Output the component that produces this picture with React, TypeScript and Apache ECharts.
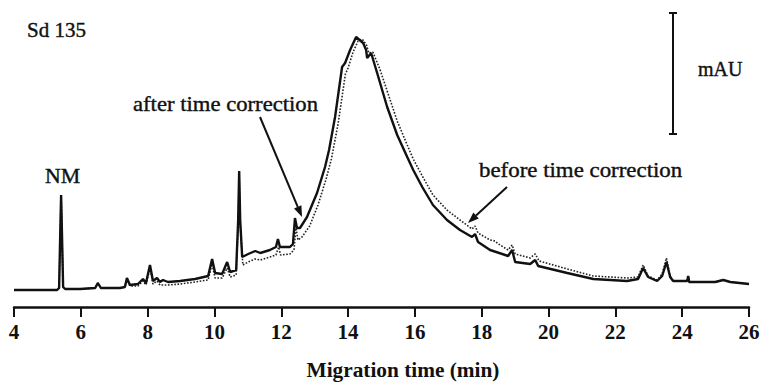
import React, { useEffect, useRef } from "react";
import * as echarts from "echarts";

// Migration time (min) vs absorbance (arbitrary mAU units)
const xTickValues = [4, 6, 8, 10, 12, 14, 16, 18, 20, 22, 24, 26];

const afterCorrection: [number, number][] = [
  [4.0, 0], [4.78, 0], [5.29, 0], [5.35, 2], [5.38, 50], [5.41, 95], [5.44, 50], [5.47, 3], [5.53, 1],
  [5.98, 1], [6.43, 2], [6.51, 7], [6.6, 2], [7.17, 2], [7.32, 3], [7.38, 12], [7.47, 5], [7.71, 6],
  [7.86, 11], [7.95, 7], [8.07, 25], [8.16, 9], [8.28, 12], [8.37, 8], [8.46, 10], [8.61, 8], [8.97, 9],
  [9.42, 11], [9.81, 14], [9.93, 31], [10.02, 17], [10.23, 16], [10.38, 28], [10.47, 18], [10.65, 20],
  [10.71, 70], [10.74, 119], [10.77, 70], [10.83, 33], [11.01, 36], [11.22, 39], [11.37, 37], [11.66, 40],
  [11.84, 43], [11.9, 51], [11.96, 43], [12.26, 43], [12.35, 46], [12.41, 72], [12.47, 62], [12.56, 62],
  [12.77, 73], [13.07, 97], [13.31, 123], [13.43, 140], [13.61, 173], [13.82, 223], [13.91, 227],
  [14.06, 240], [14.24, 253], [14.45, 247], [14.54, 240], [14.57, 232], [14.69, 237], [14.87, 217],
  [15.17, 183], [15.47, 155], [15.77, 133], [15.95, 120], [16.22, 103], [16.54, 85], [16.96, 70],
  [17.35, 60], [17.71, 53], [17.8, 56], [17.89, 48], [18.25, 40], [18.79, 34], [18.91, 40], [19.0, 28],
  [19.45, 26], [19.6, 30], [19.69, 24], [20.56, 17], [21.34, 11], [22.35, 9], [22.68, 11], [22.83, 22],
  [22.98, 13], [23.25, 9], [23.4, 14], [23.53, 28], [23.64, 13], [23.73, 9], [24.15, 9], [24.18, 14],
  [24.21, 8], [24.99, 8], [25.23, 10], [25.44, 8], [26.0, 6],
];

const beforeCorrection: [number, number][] = [
  [4.0, 0], [4.78, 0], [5.29, 0], [5.35, 2], [5.38, 50], [5.41, 95], [5.44, 50], [5.47, 3], [5.53, 1],
  [5.98, 1], [6.43, 2], [6.51, 7], [6.6, 2], [7.17, 2], [7.32, 3], [7.38, 11], [7.47, 4], [7.71, 4],
  [7.86, 9], [7.95, 5], [8.07, 22], [8.16, 6], [8.28, 9], [8.37, 5], [8.61, 5], [8.97, 6], [9.42, 8],
  [9.81, 10], [9.93, 26], [10.02, 12], [10.23, 12], [10.38, 22], [10.47, 13], [10.65, 15], [10.71, 65],
  [10.74, 116], [10.77, 65], [10.85, 25], [11.01, 28], [11.22, 31], [11.37, 30], [11.66, 33], [11.84, 35],
  [11.92, 43], [11.98, 35], [12.26, 36], [12.38, 40], [12.44, 62], [12.5, 50], [12.62, 53], [12.85, 64],
  [13.1, 85], [13.35, 112], [13.5, 131], [13.7, 166], [13.92, 216], [14.0, 222], [14.15, 238], [14.3, 249],
  [14.42, 251], [14.55, 245], [14.62, 237], [14.74, 238], [14.95, 221], [15.17, 199], [15.47, 169],
  [15.77, 145], [15.95, 131], [16.22, 114], [16.54, 95], [16.96, 80], [17.35, 70], [17.71, 61], [17.8, 64],
  [17.89, 57], [18.25, 50], [18.4, 49], [18.5, 46], [18.79, 40], [18.91, 45], [19.0, 36], [19.45, 32],
  [19.6, 36], [19.72, 29], [20.56, 21], [21.34, 14], [22.35, 12], [22.68, 13], [22.83, 25], [22.98, 14],
  [23.25, 10], [23.4, 16], [23.53, 32], [23.64, 14], [23.73, 9], [24.15, 9], [24.18, 14], [24.21, 8],
  [24.99, 8], [25.23, 10], [25.44, 8], [26.0, 6],
];

const sampleLabel = "Sd 135";
const peakLabel = "NM";
const afterLabel = "after time correction";
const beforeLabel = "before time correction";
const unitLabel = "mAU";
const xAxisTitle = "Migration time (min)";

const SERIF = '"Liberation Serif", "Times New Roman", serif';

function txt(text: string, x: number, y: number, size: number, weight: string, scaleX: number, align = "left") {
  return {
    type: "text",
    x,
    y,
    scaleX,
    z: 10,
    style: {
      text,
      fill: "#111",
      fontFamily: SERIF,
      fontSize: size,
      fontWeight: weight,
      align,
      verticalAlign: "middle",
      stroke: "#111",
      lineWidth: weight === "normal" ? 0.4 : 0,
    },
  };
}

function arrow(x1: number, y1: number, x2: number, y2: number) {
  const dx = x2 - x1;
  const dy = y2 - y1;
  const len = Math.sqrt(dx * dx + dy * dy);
  const ux = dx / len;
  const uy = dy / len;
  const hl = 11;
  const hw = 4;
  const bx = x2 - ux * hl;
  const by = y2 - uy * hl;
  return [
    { type: "line", z: 10, shape: { x1, y1, x2: bx, y2: by }, style: { stroke: "#111", lineWidth: 2 } },
    {
      type: "polygon",
      z: 10,
      shape: { points: [[x2, y2], [bx - uy * hw, by + ux * hw], [bx + uy * hw, by - ux * hw]] },
      style: { fill: "#111" },
    },
  ];
}

export default function App() {
  const ref = useRef<HTMLDivElement>(null);
  useEffect(() => {
    const chart = echarts.init(ref.current!, null, { renderer: "svg" });
    chart.setOption({
      animation: false,
      backgroundColor: "#fff",
      grid: { left: 14, right: 15, top: 30, bottom: 77, containLabel: false },
      xAxis: {
        type: "value",
        min: 4,
        max: 26,
        interval: 2,
        axisLine: { show: true, onZero: false, lineStyle: { color: "#111", width: 2.5 } },
        axisTick: { show: true, length: 10, inside: false, lineStyle: { color: "#111", width: 2 } },
        axisLabel: {
          margin: 14,
          color: "#111",
          fontFamily: SERIF,
          fontSize: 21,
          fontWeight: "bold",
          formatter: (v: number) => (xTickValues.includes(v) ? String(v) : ""),
        },
        splitLine: { show: false },
      },
      yAxis: {
        type: "value",
        min: -17,
        max: 260,
        show: false,
      },
      series: [
        {
          name: "before time correction",
          type: "line",
          data: beforeCorrection,
          showSymbol: false,
          symbol: "none",
          lineStyle: { color: "#222", width: 1.6, type: [1.6, 1.6] },
          z: 2,
        },
        {
          name: "after time correction",
          type: "line",
          data: afterCorrection,
          showSymbol: false,
          symbol: "none",
          lineStyle: { color: "#111", width: 2.4 },
          z: 3,
        },
      ],
      graphic: [
        txt(sampleLabel, 27, 30, 21, "normal", 1.0),
        txt(peakLabel, 45, 176, 21, "normal", 1.04),
        txt(afterLabel, 133, 104, 21, "normal", 1.08),
        txt(beforeLabel, 479, 170, 21, "normal", 1.09),
        txt(unitLabel, 698, 69, 20, "normal", 1.0),
        txt(xAxisTitle, 403, 370, 20, "bold", 1.066, "center"),
        ...arrow(260, 117, 302, 217),
        ...arrow(507, 187, 468, 223),
        { type: "line", z: 10, shape: { x1: 673, y1: 13, x2: 673, y2: 134 }, style: { stroke: "#111", lineWidth: 2 } },
        { type: "line", z: 10, shape: { x1: 669, y1: 13, x2: 677, y2: 13 }, style: { stroke: "#111", lineWidth: 2 } },
        { type: "line", z: 10, shape: { x1: 669, y1: 134, x2: 677, y2: 134 }, style: { stroke: "#111", lineWidth: 2 } },
      ],
    });
    return () => chart.dispose();
  }, []);
  return (
    <div
      ref={ref}
      style={{ position: "absolute", left: 0, top: 0, width: 764, height: 384, background: "#fff" }}
    />
  );
}
